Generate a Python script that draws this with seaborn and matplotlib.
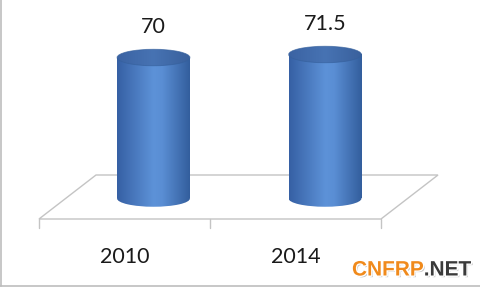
import numpy as np
import pandas as pd
import matplotlib
matplotlib.use("Agg")
import matplotlib.pyplot as plt
import seaborn as sns
from matplotlib.patches import Ellipse, Polygon
from matplotlib.colors import LinearSegmentedColormap
import matplotlib.patheffects as pe

years = ["2010", "2014"]
values = [70, 71.5]
value_labels = ["70", "71.5"]

sns.set_theme(style="white")
plt.rcParams['font.family'] = ['Lato', 'DejaVu Sans']

W, H = 480, 289
fig = plt.figure(figsize=(W / 100, H / 100), dpi=100)
fig.patch.set_facecolor("white")

# overlay axes in pixel coordinates (floor, category labels, frame, watermark)
ov = fig.add_axes([0, 0, 1, 1], zorder=0)
ov.set_xlim(0, W)
ov.set_ylim(H, 0)
ov.axis("off")

# data axes for the cylinders
ppu = 2.014  # pixels per data unit
ymin, ymax = -10, 80
ax = fig.add_axes([67.75 / W, (90.5 + ymin * ppu) / H, 343 / W, (ymax - ymin) * ppu / H],
                  zorder=1)
ax.patch.set_alpha(0)

df = pd.DataFrame({"year": years, "value": values})
sns.barplot(data=df, x="year", y="value", ax=ax, width=0.425,
            color="#4f81bd", saturation=1, errorbar=None)

body_cmap = LinearSegmentedColormap.from_list(
    "body", [(0, "#3660a4"), (0.5, "#5d92d8"), (0.62, "#5a8ed4"), (1, "#335e9d")])
top_cmap = LinearSegmentedColormap.from_list(
    "top", [(0, "#3b63a3"), (0.5, "#4773b3"), (1, "#39609c")])
grad = np.linspace(0, 1, 256).reshape(1, -1)

ell_h = 8.2  # ellipse height in data units
for patch, v, lab in zip(ax.patches, values, value_labels):
    x0 = patch.get_x()
    w = patch.get_width()
    xc = x0 + w / 2
    patch.set_alpha(0)
    # body
    im = ax.imshow(grad, cmap=body_cmap, extent=(x0, x0 + w, 0, v),
                   aspect="auto", zorder=2, interpolation="bicubic")
    im.set_clip_path(patch)
    # bottom ellipse
    be = Ellipse((xc, 0), w, ell_h, facecolor="none", edgecolor="none")
    ax.add_patch(be)
    im2 = ax.imshow(grad, cmap=body_cmap, extent=(x0, x0 + w, -ell_h, 0),
                    aspect="auto", zorder=2, interpolation="bicubic")
    im2.set_clip_path(be)
    # top ellipse
    te = Ellipse((xc, v), w, ell_h, facecolor="none", edgecolor="none")
    ax.add_patch(te)
    im3 = ax.imshow(grad, cmap=top_cmap, extent=(x0, x0 + w, v - ell_h, v + ell_h),
                    aspect="auto", zorder=3, interpolation="bicubic")
    im3.set_clip_path(te)
    ax.add_patch(Ellipse((xc, v), w, ell_h, facecolor="none",
                         edgecolor="#35609c", lw=0.6, alpha=0.7, zorder=4))
    ax.annotate(lab, xy=(xc, v), xytext=(0, 22), textcoords="offset points",
                ha="center", va="center", fontsize=15.5, color="#1a1a1a")

ax.set_xlim(-0.5, 1.5)
ax.set_ylim(ymin, ymax)
ax.axis("off")

# floor (3D plane)
floor_col = "#c4c4c4"
fx0, fx1, fy = 39, 381, 219
dx, dy = 57, 44
floor = Polygon([(fx0, fy), (fx1, fy), (fx1 + dx, fy - dy), (fx0 + dx, fy - dy)],
                closed=True, facecolor="none", edgecolor=floor_col, lw=1.0)
ov.add_patch(floor)
n = len(years)
step = (fx1 - fx0) / n
for i in range(n + 1):
    xt = fx0 + i * step
    ov.plot([xt, xt], [fy, fy + 9], color=floor_col, lw=1.0)
for i, yr in enumerate(years):
    ov.text(fx0 + (i + 0.5) * step, 257, yr, ha="center", va="center",
            fontsize=15.5, color="#1a1a1a")

# frame lines
ov.plot([1, 1], [0, 286], color="#bdbdbd", lw=1.2)
ov.plot([0, W], [286, 286], color="#bdbdbd", lw=1.2)

# watermark
effects = [pe.withSimplePatchShadow(offset=(1.2, -1.2), shadow_rgbFace="#999999", alpha=0.6),
           pe.Stroke(linewidth=2, foreground="white"), pe.Normal()]
t1 = ov.text(352, 270, "CNFRP", ha="left", va="center", fontsize=15,
             fontweight="bold", color="#f08a1c", family="Liberation Sans")
t1.set_path_effects(effects)
t2 = ov.annotate(".NET", xy=(1, 0.5), xycoords=t1, ha="left", va="center",
                 fontsize=15, fontweight="bold", color="#3a3a3a",
                 family="Liberation Sans")
t2.set_path_effects(effects)

fig.savefig("out.png", dpi=100, facecolor="white")
